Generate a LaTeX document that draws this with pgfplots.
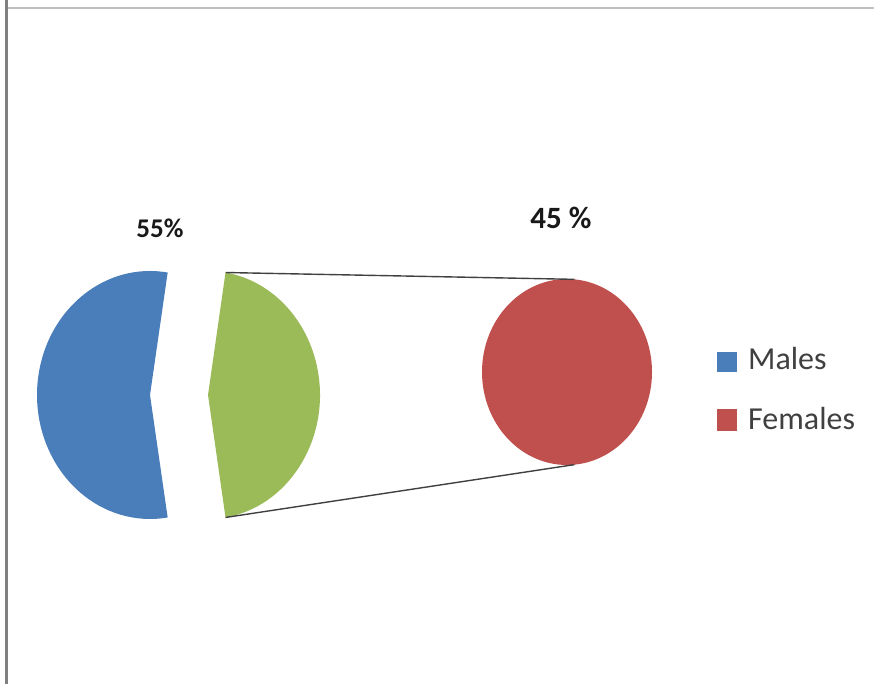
\documentclass[border=0pt]{standalone}
\usepackage{pgfplots}
\usepackage{pgfplotstable}
\pgfplotsset{compat=1.18}
\usepackage{fontspec}
\setmainfont{Carlito}

\definecolor{maleblue}{HTML}{4A7EBB}
\definecolor{splitgreen}{HTML}{9BBB59}
\definecolor{femalered}{HTML}{C0504D}
\definecolor{linegray}{HTML}{404040}
\definecolor{legtext}{HTML}{404040}

% share of each group, in percent
\pgfplotstableread{
group   value
Males   55
Females 45
}\sexdata

\pgfplotstablegetelem{0}{value}\of\sexdata\let\maleval\pgfplotsretval
\pgfplotstablegetelem{1}{value}\of\sexdata\let\femaleval\pgfplotsretval
% half-angles of the two slices of the main pie
\pgfmathsetmacro{\halfmale}{1.8*\maleval}
\pgfmathsetmacro{\halffemale}{1.8*\femaleval}
\pgfmathsetmacro{\mstart}{180-\halfmale}
\pgfmathsetmacro{\mend}{180+\halfmale}

\begin{document}
\begin{tikzpicture}
\begin{axis}[
  x=1pt, y=1pt,
  xmin=0, xmax=874, ymin=0, ymax=684,
  axis line style={draw=none},
  ticks=none,
  clip=false,
]
\coordinate (bl) at (axis cs:0,0);
\coordinate (tr) at (axis cs:874,684);
% frame lines
\addplot[draw=black!25, line width=2.5pt] coordinates {(6,676) (874,676)};
\addplot[draw=black!50, line width=3pt] coordinates {(6.5,684) (6.5,0)};

% main pie: Males slice (pulled left) and the Females slice (pulled right)
\fill[maleblue] (axis cs:150,289) -- ([shift={(\mstart:113pt and 124pt)}]axis cs:150,289)
  arc[start angle=\mstart, end angle=\mend, x radius=113pt, y radius=124pt] -- cycle;
\fill[splitgreen] (axis cs:208,289) -- ([shift={(-\halffemale:112pt and 124pt)}]axis cs:208,289)
  arc[start angle=-\halffemale, end angle=\halffemale, x radius=112pt, y radius=124pt] -- cycle;

% secondary pie: Females
\fill[femalered] (axis cs:567,312) ellipse[x radius=85pt, y radius=93pt];

% connector lines
\draw[linegray, line width=1.4pt]
  ([shift={(\halffemale:112pt and 124pt)}]axis cs:208,289) -- ([shift={(85:85pt and 93pt)}]axis cs:567,312);
\draw[linegray, line width=1.4pt]
  ([shift={(-\halffemale:112pt and 124pt)}]axis cs:208,289) -- ([shift={(-85:85pt and 93pt)}]axis cs:567,312);

% data labels
\node[font=\fontsize{27}{27}\selectfont\bfseries, text=black!90] at (axis cs:160,456) {\maleval\%};
\node[font=\fontsize{31}{31}\selectfont\bfseries, text=black!90] at (axis cs:561,466) {\femaleval\ \%};

% legend
\fill[maleblue] (axis cs:717,312) rectangle (axis cs:737,332);
\fill[femalered] (axis cs:717,253) rectangle (axis cs:737,275);
\node[anchor=base west, inner sep=0pt, text=legtext, font=\fontsize{32}{32}\selectfont] at (axis cs:748,314) {Males};
\node[anchor=base west, inner sep=0pt, text=legtext, font=\fontsize{32}{32}\selectfont] at (axis cs:748,254) {Females};
\end{axis}
\pgfresetboundingbox
\path[use as bounding box] (bl) rectangle (tr);
\end{tikzpicture}
\end{document}
